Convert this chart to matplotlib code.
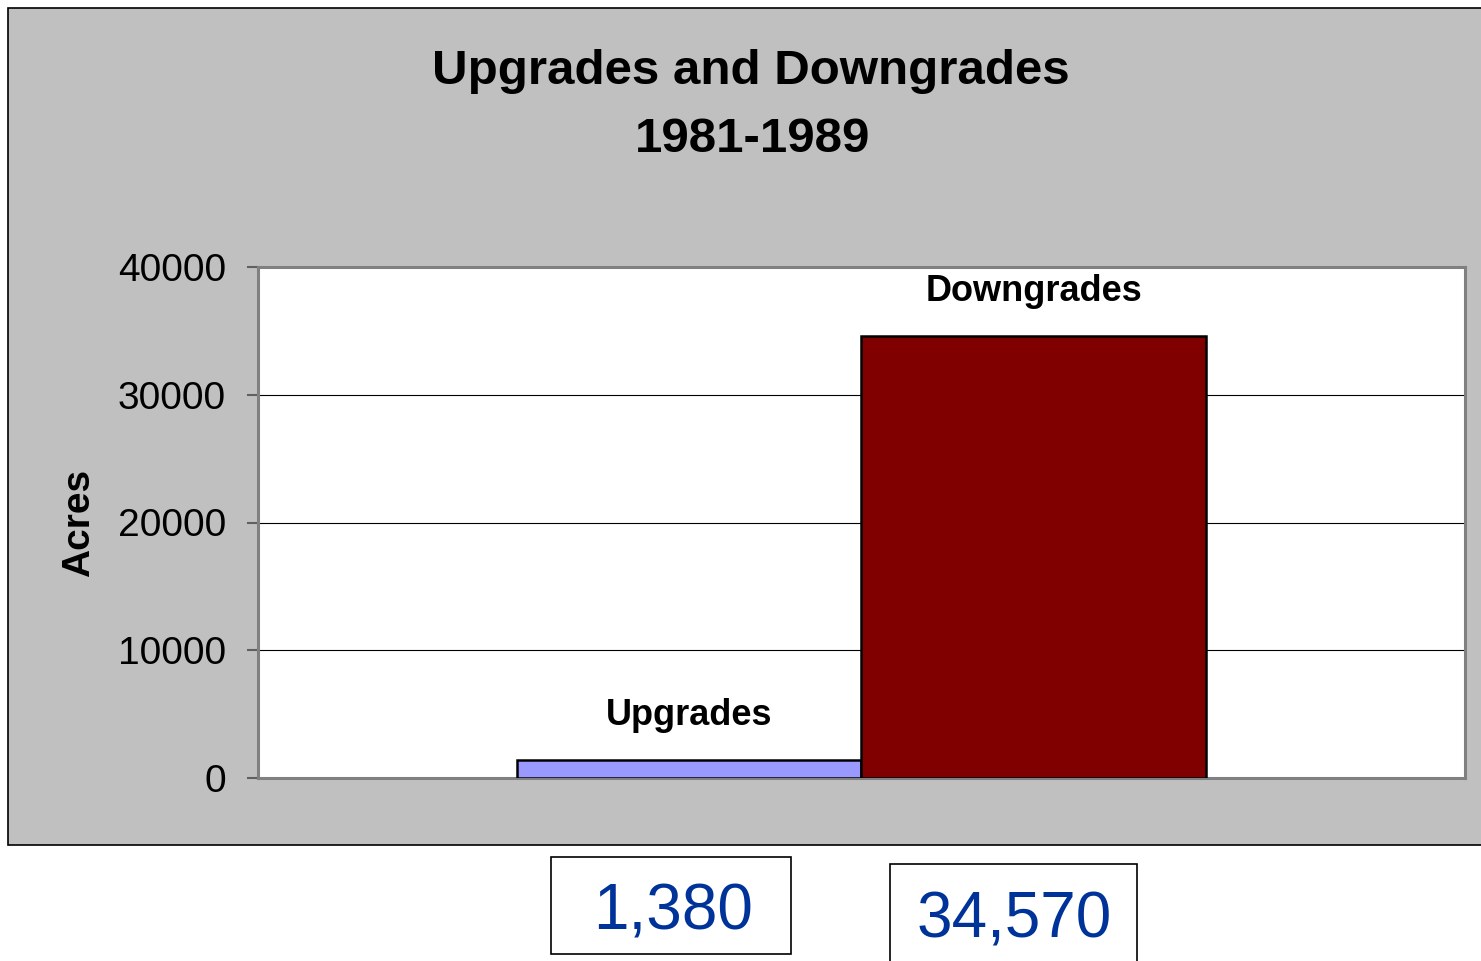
import matplotlib
matplotlib.use("Agg")
import matplotlib.pyplot as plt
from matplotlib.patches import Rectangle

plt.rcParams['font.family'] = ['Liberation Sans', 'DejaVu Sans']

categories = ["Upgrades", "Downgrades"]
values = [1380, 34570]
bar_colors = ["#9999FF", "#800000"]
yticks = [0, 10000, 20000, 30000, 40000]
title_lines = ["Upgrades and Downgrades", "1981-1989"]
ylabel = "Acres"

W, H = 1481, 961
fig = plt.figure(figsize=(W / 100, H / 100), dpi=100)
fig.patch.set_facecolor("white")

def fx(px):
    return px / W

def fy(py):
    return 1 - py / H

# gray chart panel
fig.patches.append(Rectangle((fx(8), fy(845)), fx(1490) - fx(8), fy(8) - fy(845),
                             transform=fig.transFigure, facecolor="#C0C0C0",
                             edgecolor="black", linewidth=1.2, zorder=0))

ax = fig.add_axes([fx(258), fy(778), fx(1465) - fx(258), fy(267) - fy(778)])
ax.set_facecolor("white")
ax.set_zorder(1)

x = list(range(len(categories)))
bars = ax.bar(x, values, width=1.0, color=bar_colors, edgecolor="black",
              linewidth=1.8, zorder=3)
ax.set_xlim(-1.25, 2.25)
ax.set_ylim(0, 40000)
ax.set_yticks(yticks)
ax.set_yticklabels([str(v) for v in yticks], fontsize=28)
ax.set_xticks([])
ax.yaxis.grid(True, color="black", linewidth=0.8, zorder=1)
ax.set_axisbelow(True)
ax.tick_params(axis="y", length=8, width=1.5, color="#606060", pad=15)
for s in ax.spines.values():
    s.set_color("#808080")
    s.set_linewidth(2.2)

for xi, v, name in zip(x, values, categories):
    ax.annotate(name, (xi, v), xytext=(0, 32), textcoords="offset points",
                ha="center", va="center", fontsize=26, fontweight="bold", zorder=5)

ax.set_ylabel(ylabel, fontsize=28, fontweight="bold", labelpad=15)

fig.text(fx(751), fy(71), title_lines[0], ha="center", va="center",
         fontsize=35.5, fontweight="bold")
fig.text(fx(753), fy(139), title_lines[1], ha="center", va="center",
         fontsize=35.5, fontweight="bold")

# value boxes below chart
boxes = [(551, 857, 791, 954, 673, 912), (890, 864, 1137, 980, 1014, 920)]
for (x0, y0, x1, y1, tx, ty), v in zip(boxes, values):
    fig.patches.append(Rectangle((fx(x0), fy(y1)), fx(x1) - fx(x0), fy(y0) - fy(y1),
                                 transform=fig.transFigure, facecolor="white",
                                 edgecolor="black", linewidth=1.2, zorder=2))
    fig.text(fx(tx), fy(ty), f"{v:,}", ha="center", va="center",
             fontsize=46, color="#003399", zorder=3)

fig.savefig("out.png", dpi=100)
